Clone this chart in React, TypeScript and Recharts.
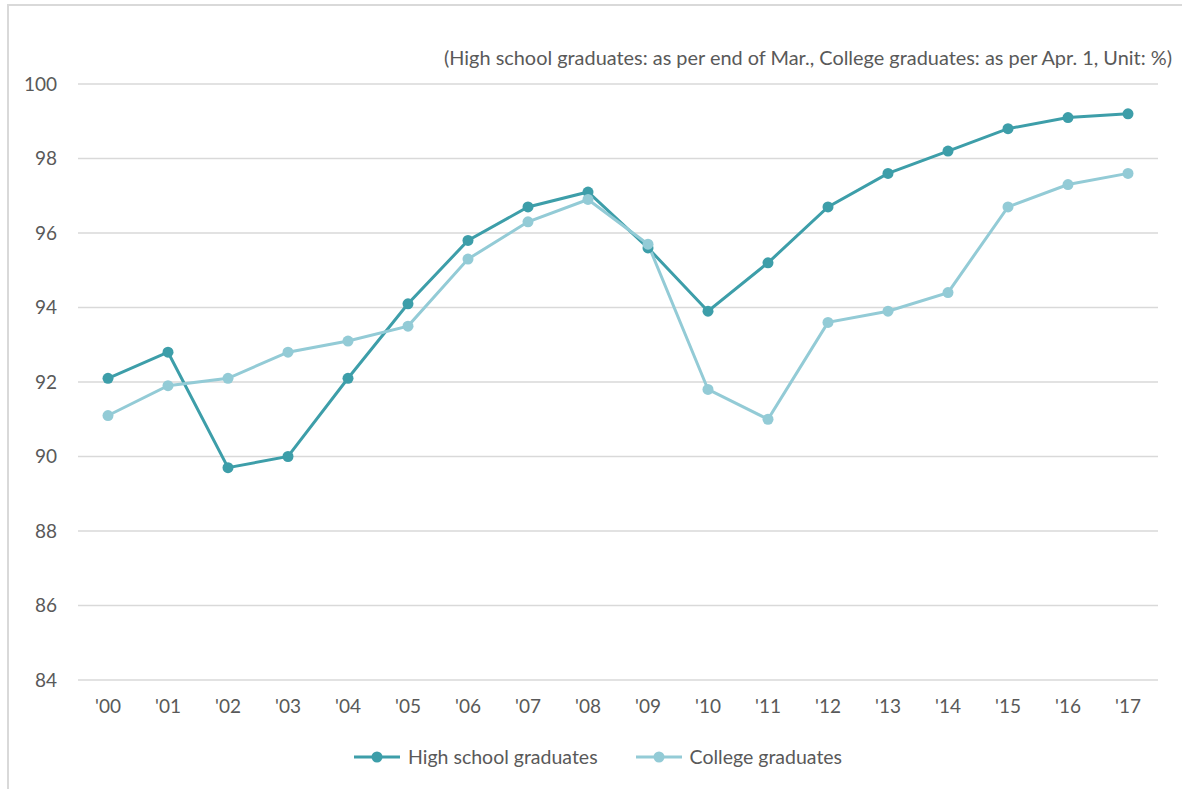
import { LineChart, Line, XAxis, YAxis, CartesianGrid } from "recharts";

const years = ["'00", "'01", "'02", "'03", "'04", "'05", "'06", "'07", "'08", "'09", "'10", "'11", "'12", "'13", "'14", "'15", "'16", "'17"];
const highSchool = [92.1, 92.8, 89.7, 90.0, 92.1, 94.1, 95.8, 96.7, 97.1, 95.6, 93.9, 95.2, 96.7, 97.6, 98.2, 98.8, 99.1, 99.2];
const college = [91.1, 91.9, 92.1, 92.8, 93.1, 93.5, 95.3, 96.3, 96.9, 95.7, 91.8, 91.0, 93.6, 93.9, 94.4, 96.7, 97.3, 97.6];
const yTicks = [84, 86, 88, 90, 92, 94, 96, 98, 100];
const note = "(High school graduates: as per end of Mar., College graduates: as per Apr. 1, Unit: %)";

const HS_COLOR = "#3d9ea9";
const COL_COLOR = "#93cbd6";
const TEXT = "#595959";
const FONT = "Lato, 'Open Sans', sans-serif";

const data = years.map((year, i) => ({ year, hs: highSchool[i], col: college[i] }));

const series = [
  { key: "hs", name: "High school graduates", color: HS_COLOR },
  { key: "col", name: "College graduates", color: COL_COLOR },
];

function LegendRow() {
  return (
    <div style={{ position: "absolute", left: 352, top: 745, display: "flex", gap: 36, fontFamily: FONT, fontSize: 19.5, color: TEXT }}>
      {series.map((s) => (
        <div key={s.key} style={{ display: "flex", alignItems: "center" }}>
          <svg width={50} height={14} style={{ marginRight: 6 }}>
            <line x1={2} y1={7} x2={48} y2={7} stroke={s.color} strokeWidth={3} />
            <circle cx={25} cy={7} r={5.5} fill={s.color} />
          </svg>
          <span>{s.name}</span>
        </div>
      ))}
    </div>
  );
}

export default function App() {
  return (
    <div style={{ position: "absolute", left: 0, top: 0, width: 1182, height: 789, background: "#fff", overflow: "hidden" }}>
      {/* frame */}
      <div style={{ position: "absolute", left: 7, top: 4, width: 1200, height: 800, borderTop: "2px solid #d9d9d9", borderLeft: "2px solid #d9d9d9" }} />
      <div style={{ position: "absolute", right: 10, top: 45, fontFamily: FONT, fontSize: 19.9, color: TEXT, whiteSpace: "nowrap" }}>
        {note}
      </div>
      <div style={{ position: "absolute", left: 0, top: 0 }}>
        <LineChart width={1182} height={789} data={data} margin={{ top: 84, right: 24, bottom: 79, left: 18 }}>
          <CartesianGrid vertical={false} stroke="#d9d9d9" strokeWidth={1.5} />
          <XAxis
            dataKey="year"
            axisLine={false}
            tickLine={false}
            tickMargin={14}
            padding={{ left: 30, right: 30 }}
            tick={{ fill: TEXT, fontSize: 19, fontFamily: FONT }}
          />
          <YAxis
            width={60}
            domain={[84, 100]}
            ticks={yTicks}
            axisLine={false}
            tickLine={false}
            tickMargin={15}
            tick={{ fill: TEXT, fontSize: 19, fontFamily: FONT }}
          />
          {series.map((s) => (
            <Line
              key={s.key}
              dataKey={s.key}
              name={s.name}
              stroke={s.color}
              strokeWidth={3}
              dot={{ r: 5.5, fill: s.color, stroke: s.color, strokeWidth: 0 }}
              activeDot={false}
              isAnimationActive={false}
            />
          ))}
        </LineChart>
      </div>
      <LegendRow />
    </div>
  );
}
